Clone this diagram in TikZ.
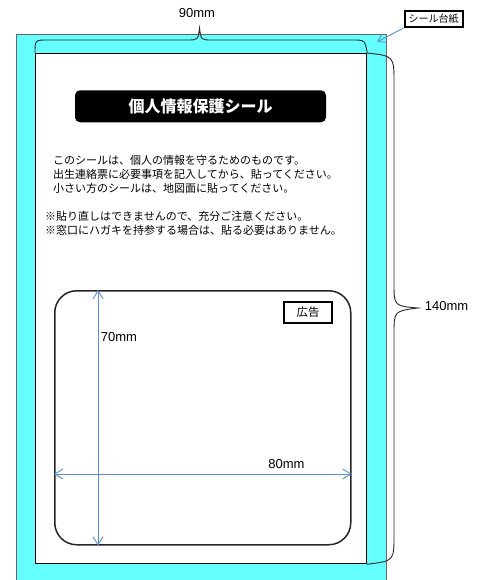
\documentclass[tikz,border=0pt]{standalone}
\usepackage{fontspec}
\setmainfont{Liberation Sans}
\newfontfamily\jp{Noto Sans CJK JP}
\usetikzlibrary{arrows.meta}
\definecolor{sheetcyan}{HTML}{66FFFF}
\definecolor{dimblue}{RGB}{91,143,212}
\tikzset{
  sheetbox/.style={fill=sheetcyan, draw=gray!80!black, line width=0.8pt, inner sep=0, anchor=north west},
  sealbox/.style={fill=white, draw=black, line width=1.2pt, inner sep=0, anchor=north west},
  titlebox/.style={fill=black, text=white, rounded corners=5pt, inner sep=0, minimum width=251, minimum height=32, font=\jp\bfseries\fontsize{16}{18}\selectfont},
  bodytext/.style={inner sep=0, anchor=west, align=left, font=\jp\fontsize{11}{14}\selectfont},
  adbox/.style={draw=black!85, line width=1.5pt, rounded corners=22pt, inner sep=0, anchor=north west},
  tagbox/.style={draw=black, line width=1.2pt, inner sep=0, minimum width=48, minimum height=21, font=\jp\fontsize{11.5}{12}\selectfont},
  labelbox/.style={draw=black, line width=2pt, inner sep=0, minimum width=58, minimum height=16, font=\jp\fontsize{10}{11}\selectfont},
  dimtext/.style={inner sep=0, font=\fontsize{13}{14}\selectfont},
  dim/.style={draw=dimblue, line width=0.9pt, {Straight Barb[length=8pt,width=10pt]}-{Straight Barb[length=8pt,width=10pt]}},
  pointer/.style={draw=dimblue, line width=0.9pt, -{Straight Barb[length=7pt,width=9pt]}},
  bracestyle/.style={draw=black!85, line width=0.9pt}
}
\begin{document}
\begin{tikzpicture}[x=1pt,y=-1pt]
\useasboundingbox (0,0) rectangle (484,580);
% sheet
\node[sheetbox, minimum width=370, minimum height=560] (daishi) at (16,34) {};
% seal
\node[sealbox, minimum width=331, minimum height=510] (seal) at (35,53) {};
% title
\node[titlebox] (title) at (200.5,106.3) {個人情報保護シール};
% body text
\node[bodytext] (bodyA) at (53,174) {このシールは、個人の情報を守るためのものです。\\出生連絡票に必要事項を記入してから、貼ってください。\\小さい方のシールは、地図面に貼ってください。};
\node[bodytext] (bodyB) at (45,223) {※貼り直しはできませんので、充分ご注意ください。\\※窓口にハガキを持参する場合は、貼る必要はありません。};
% ad box
\node[adbox, minimum width=296, minimum height=254] (ad) at (54,290) {};
\node[tagbox] (tag) at (308,312.5) {広告};
% dimension arrows
\coordinate (vx) at (98,0);
\coordinate (hy) at (0,474);
\draw[dim] (ad.north -| vx) -- (ad.south -| vx);
\draw[dim] (ad.west |- hy) -- (ad.east |- hy);
\node[dimtext] (d70) at (119,337) {70mm};
\node[dimtext] (d80) at (286.5,464.5) {80mm};
% label
\node[labelbox] (lbl) at (433.5,19) {シール台紙};
\coordinate (lbltip) at (377,42);
\draw[pointer] (lbl.south west) -- (lbltip);
% top brace
\draw[bracestyle] (seal.north west) .. controls (35,40) .. (48,40) -- (187,40) .. controls (198,40) .. (199.5,28) .. controls (201,40) .. (212,40) -- (352,40) .. controls (365,40) .. (seal.north east);
\node[dimtext] (d90) at (197,13) {90mm};
% right brace
\draw[bracestyle] (seal.north east) .. controls (394,56) .. (394,83) -- (394,283) .. controls (394,306) .. (418,308) .. controls (394,311) .. (394,334) -- (394,535) .. controls (394,561) .. (seal.south east);
\node[dimtext] (d140) at (446.5,306) {140mm};
\end{tikzpicture}
\end{document}
